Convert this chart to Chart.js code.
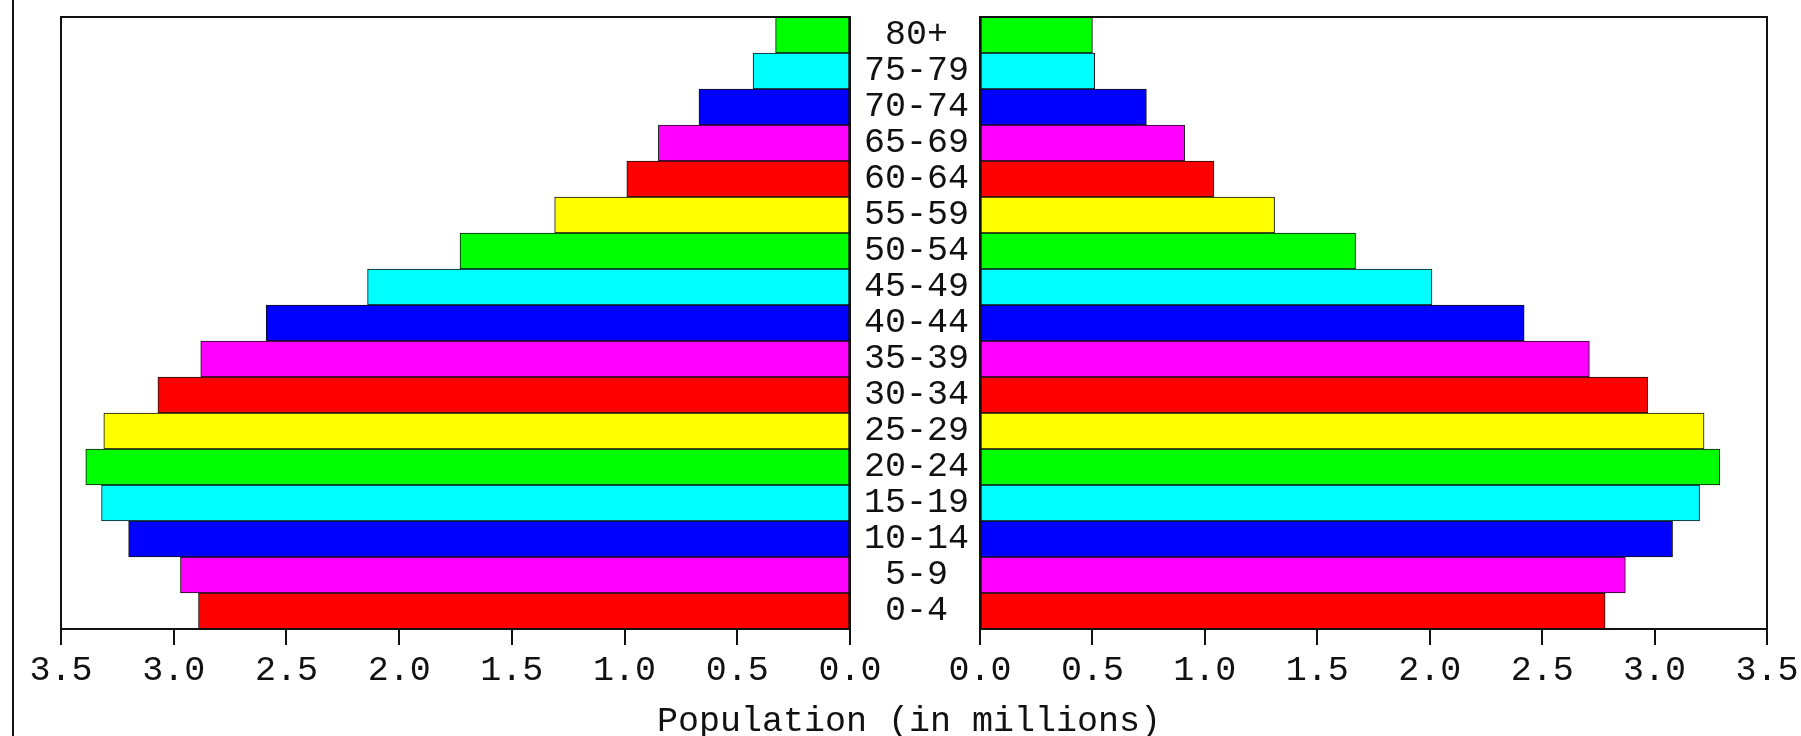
<!DOCTYPE html>
<html>
<head>
<meta charset="utf-8">
<script src="https://cdn.jsdelivr.net/npm/chart.js@4"></script>
<style>
  body { margin: 0; background: #fff; width: 1801px; height: 736px; overflow: hidden; position: relative; }
  #leftBox { position: absolute; left: 0; top: 0; width: 900px; height: 736px; }
  #rightBox { position: absolute; left: 850px; top: -12px; width: 970px; height: 748px; }
  #frameLine { position: absolute; left: 12px; top: 0; width: 0; height: 736px; border-left: 2px solid #111; }
  #axisTitle { position: absolute; left: 0; width: 1818px; top: 702px; text-align: center;
    font: 35px "Liberation Mono", monospace; color: #111; line-height: 40px; }
</style>
</head>
<body>
<div id="frameLine"></div>
<div id="leftBox"><canvas id="leftChart"></canvas></div>
<div id="rightBox"><canvas id="rightChart"></canvas></div>
<div id="axisTitle">Population (in millions)</div>
<script>
const ageGroups = ["80+", "75-79", "70-74", "65-69", "60-64", "55-59", "50-54", "45-49", "40-44",
  "35-39", "30-34", "25-29", "20-24", "15-19", "10-14", "5-9", "0-4"];
const leftValues = [0.33, 0.43, 0.67, 0.85, 0.99, 1.31, 1.73, 2.14, 2.59, 2.88, 3.07, 3.31, 3.39, 3.32, 3.20, 2.97, 2.89];
const rightValues = [0.50, 0.51, 0.74, 0.91, 1.04, 1.31, 1.67, 2.01, 2.42, 2.71, 2.97, 3.22, 3.29, 3.20, 3.08, 2.87, 2.78];
const barColors = ["#00ff00", "#00ffff", "#0000ff", "#ff00ff", "#ff0000", "#ffff00",
  "#00ff00", "#00ffff", "#0000ff", "#ff00ff", "#ff0000", "#ffff00",
  "#00ff00", "#00ffff", "#0000ff", "#ff00ff", "#ff0000"];

const monoFont = { family: "'Liberation Mono', monospace", size: 35, lineHeight: 1 };

// box around the plot area
const frame = {
  id: "frame",
  afterDraw(chart) {
    const a = chart.chartArea;
    const c = chart.ctx;
    c.save();
    c.strokeStyle = "#111";
    c.lineWidth = 2;
    c.strokeRect(a.left, a.top, a.right - a.left, a.bottom - a.top);
    c.restore();
  }
};

function xAxis(reverse) {
  return {
    type: "linear",
    min: 0,
    max: 3.5,
    reverse: reverse,
    afterFit: s => { s.height = 107; },
    border: { display: false },
    grid: { drawOnChartArea: false, drawTicks: true, tickLength: 16, color: "#111", lineWidth: 2 },
    ticks: { stepSize: 0.5, color: "#111", font: monoFont, padding: 8, maxRotation: 0,
      callback: v => v.toFixed(1) }
  };
}

function dataset(values) {
  return {
    data: values,
    backgroundColor: barColors,
    borderColor: "#111",
    borderWidth: 1,
    borderSkipped: false,
    barPercentage: 1,
    categoryPercentage: 1
  };
}

const leftChart = new Chart(document.getElementById("leftChart").getContext("2d"), {
  type: "bar",
  data: { labels: ageGroups, datasets: [dataset(leftValues)] },
  options: {
    indexAxis: "y",
    responsive: true,
    maintainAspectRatio: false,
    animation: false,
    layout: { padding: { left: 61, right: 50, top: 17, bottom: 0 } },
    plugins: { legend: { display: false }, tooltip: { enabled: false } },
    scales: {
      x: xAxis(true),
      y: { type: "category", display: false }
    }
  },
  plugins: [frame]
});

const rightChart = new Chart(document.getElementById("rightChart").getContext("2d"), {
  type: "bar",
  data: { labels: ageGroups, datasets: [dataset(rightValues)] },
  options: {
    indexAxis: "y",
    responsive: true,
    maintainAspectRatio: false,
    animation: false,
    layout: { padding: { left: 0, right: 53, top: 29, bottom: 0 } },
    plugins: { legend: { display: false }, tooltip: { enabled: false } },
    scales: {
      x: xAxis(false),
      y: {
        type: "category",
        position: "left",
        afterFit: s => { s.width = 130; },
        border: { display: false },
        grid: { display: false, drawTicks: false },
        ticks: { autoSkip: false, crossAlign: "center", padding: 11, color: "#111", font: monoFont }
      }
    }
  },
  plugins: [frame]
});
</script>
</body>
</html>
